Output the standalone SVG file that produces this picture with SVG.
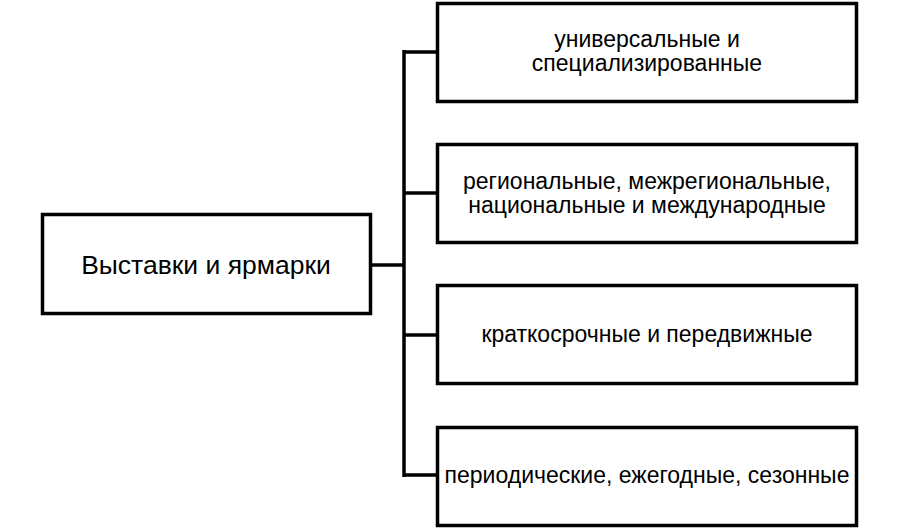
<svg xmlns="http://www.w3.org/2000/svg" width="900" height="529" viewBox="0 0 900 529">
<style>
.box{fill:#fff;stroke:#000;stroke-width:3.5}
.ln{fill:none;stroke:#000;stroke-width:3.5}
text{font-family:"Liberation Sans",Arial,sans-serif;font-size:23px;fill:#000;text-anchor:middle}
.big{font-size:26.5px}
</style>
<rect width="900" height="529" fill="#fff"/>
<g id="connectors">
<path class="ln" d="M372 265H404M404 50V477M404 52H437M404 193H437M404 335H437M404 475H437"/>
</g>
<g id="root">
<rect class="box" x="42.5" y="214.5" width="328" height="99"/>
<text class="big" x="206" y="274">Выставки и ярмарки</text>
</g>
<g id="n1">
<rect class="box" x="437.5" y="3.5" width="419" height="98"/>
<text x="647" y="47">универсальные и</text>
<text x="647" y="71">специализированные</text>
</g>
<g id="n2">
<rect class="box" x="437.5" y="144.5" width="419" height="98"/>
<text x="647" y="189">региональные, межрегиональные,</text>
<text x="647" y="213">национальные и международные</text>
</g>
<g id="n3">
<rect class="box" x="437.5" y="285.5" width="419" height="98"/>
<text x="647" y="342">краткосрочные и передвижные</text>
</g>
<g id="n4">
<rect class="box" x="437.5" y="427.5" width="419" height="98"/>
<text x="647" y="483">периодические, ежегодные, сезонные</text>
</g>
</svg>
